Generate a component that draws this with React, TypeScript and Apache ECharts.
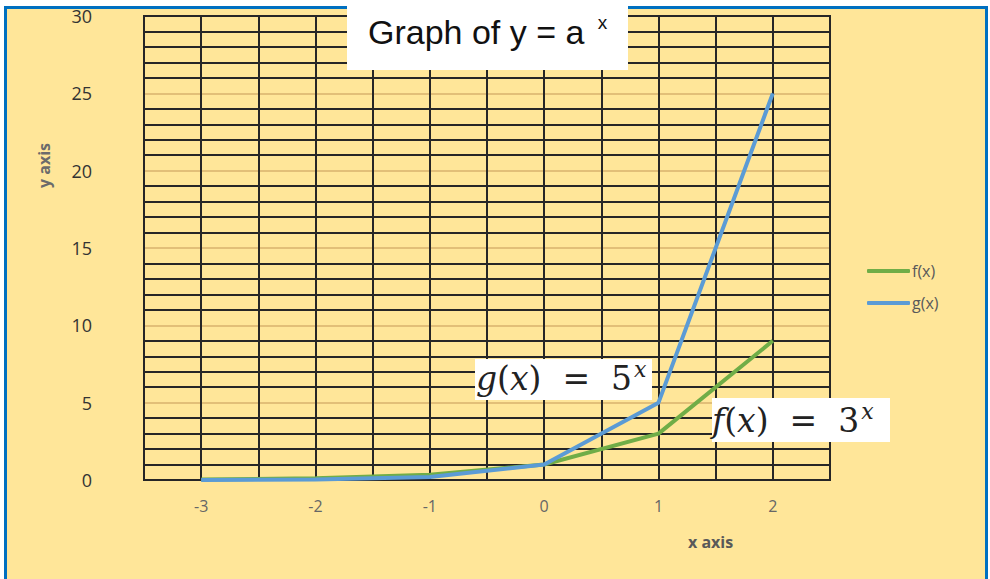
import React, { useEffect, useRef } from "react";
import * as echarts from "echarts";

const xValues = [-3, -2, -1, 0, 1, 2];
const fValues = [0.037, 0.111, 0.333, 1, 3, 9];
const gValues = [0.008, 0.04, 0.2, 1, 5, 25];
const seriesNames = ["f(x)", "g(x)"];

export default function App() {
  const ref = useRef<HTMLDivElement>(null);
  useEffect(() => {
    if (!ref.current) return;
    const chart = echarts.init(ref.current, null, { renderer: "svg" });
    const pts = (vals: number[]) => xValues.map((x, i) => [x, vals[i]]);
    const mathRich = {
      i: { fontSize: 33, fontFamily: "DejaVu Serif", fontStyle: "italic", fill: "#222" },
      n: { fontSize: 33, fontFamily: "DejaVu Serif", fill: "#222" },
      s: { fontSize: 22, fontFamily: "DejaVu Serif", fontStyle: "italic", fill: "#222", padding: [0, 0, 18, 2] },
    };
    chart.setOption({
      animation: false,
      backgroundColor: "#ffffff",
      grid: {
        left: 144,
        right: 160,
        top: 16,
        bottom: 99,
        show: true,
        borderColor: "#262626",
        borderWidth: 2,
        z: 1,
      },
      legend: {
        orient: "vertical",
        left: 862,
        top: 258,
        itemGap: 16,
        itemWidth: 43,
        itemHeight: 4,
        icon: "roundRect",
        textStyle: { color: "#595959", fontSize: 16, fontFamily: "Open Sans", padding: [0, 0, 0, -3] },
        data: seriesNames,
      },
      xAxis: {
        type: "value",
        min: -3.5,
        max: 2.5,
        interval: 0.5,
        axisLine: { show: false },
        axisTick: { show: false },
        axisLabel: {
          color: "#666666",
          fontSize: 16,
          fontFamily: "Open Sans",
          margin: 18,
          showMinLabel: false,
          showMaxLabel: false,
          formatter: (v: number) => (Number.isInteger(v) ? String(v) : ""),
        },
        splitLine: { show: true, lineStyle: { color: "#262626", width: 2 } },
      },
      yAxis: {
        type: "value",
        min: 0,
        max: 30,
        interval: 5,
        axisLine: { show: false },
        axisTick: { show: false },
        axisLabel: { color: "#333333", fontSize: 18, fontFamily: "Open Sans", margin: 52 },
        splitLine: { show: true, lineStyle: { color: "#D9B26E", width: 1.5 } },
        minorTick: { show: false, splitNumber: 5 },
        minorSplitLine: { show: true, lineStyle: { color: "#262626", width: 2 } },
      },
      graphic: [
        {
          type: "rect",
          z: -10,
          shape: { x: 5.5, y: 7.5, width: 981, height: 600 },
          style: { fill: "#FFE699", stroke: "#0070C0", lineWidth: 3 },
        },
        {
          type: "rect",
          z: 100,
          shape: { x: 347, y: 0, width: 281, height: 70 },
          style: { fill: "#ffffff" },
        },
        {
          type: "text",
          z: 101,
          x: 368,
          y: 13,
          style: {
            text: "{a|Graph of y = a }{b|x}",
            rich: {
              a: { fontSize: 34, fontFamily: "Liberation Sans", fill: "#111" },
              b: { fontSize: 19, fontFamily: "Liberation Sans", fill: "#111", padding: [0, 0, 18, 4] },
            },
          },
        },
        {
          type: "rect",
          z: 100,
          shape: { x: 475, y: 359, width: 177, height: 41 },
          style: { fill: "#ffffff" },
        },
        {
          type: "text",
          z: 101,
          x: 476,
          y: 358,
          style: { text: "{i|g}{n|(}{i|x}{n|)  =  5}{s|x}", rich: mathRich },
        },
        {
          type: "rect",
          z: 100,
          shape: { x: 712, y: 398, width: 178, height: 44 },
          style: { fill: "#ffffff" },
        },
        {
          type: "text",
          z: 101,
          x: 712,
          y: 400,
          style: { text: "{i|f}{n|(}{i|x}{n|)  =  3}{s|x}", rich: mathRich },
        },
        {
          type: "text",
          z: 50,
          x: 36,
          y: 188,
          rotation: Math.PI / 2,
          style: { text: "y axis", fontSize: 16, fontWeight: "bold", fontFamily: "Open Sans", fill: "#6b6b6b" },
        },
        {
          type: "text",
          z: 50,
          x: 688,
          y: 534,
          style: { text: "x axis", fontSize: 16, fontWeight: "bold", fontFamily: "Open Sans", fill: "#595959" },
        },
      ],
      series: [
        {
          name: seriesNames[0],
          type: "line",
          data: pts(fValues),
          symbol: "none",
          z: 5,
          itemStyle: { color: "#70AD47" },
          lineStyle: { color: "#70AD47", width: 4 },
        },
        {
          name: seriesNames[1],
          type: "line",
          data: pts(gValues),
          symbol: "none",
          z: 6,
          itemStyle: { color: "#5B9BD5" },
          lineStyle: { color: "#5B9BD5", width: 4 },
        },
      ],
    });
    return () => chart.dispose();
  }, []);
  return <div ref={ref} style={{ position: "fixed", left: 0, top: 0, width: 990, height: 579 }} />;
}
